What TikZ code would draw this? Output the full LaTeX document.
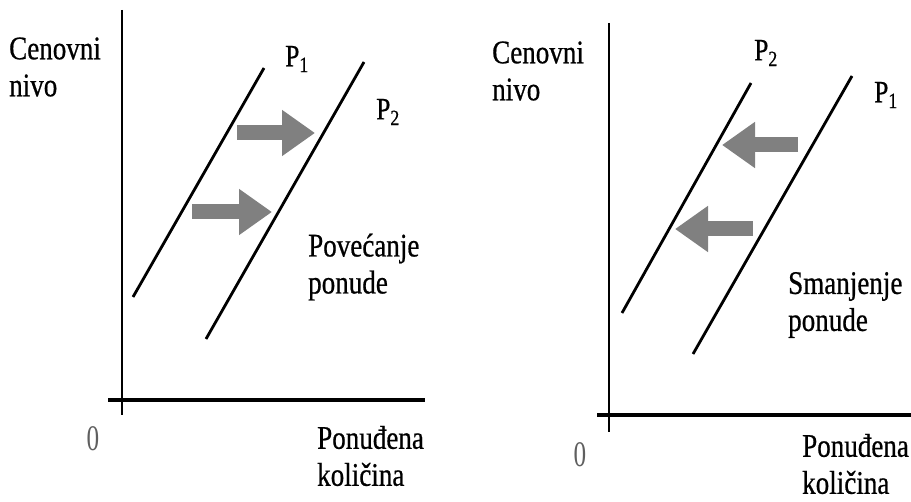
\documentclass[tikz,border=0pt]{standalone}
\usepackage{fontspec}
\setmainfont[FakeStretch=0.82,FakeBold=0.6]{Liberation Serif}
\newfontfamily\zerofont[FakeStretch=0.7]{Liberation Serif}
\usetikzlibrary{arrows.meta}
\definecolor{shiftgray}{RGB}{128,128,128}
\definecolor{zerogray}{RGB}{95,95,95}

\tikzset{
  axisv/.style={line width=2.5pt},
  axish/.style={line width=4.5pt},
  supplyline/.style={line width=2.8pt},
  shiftarrow/.style={draw=shiftgray, line width=15pt, -{Triangle[length=33pt,width=44pt]}},
  blocklabel/.style={anchor=west, align=left, inner sep=0pt, font=\fontsize{33}{37}\selectfont},
  curvelabel/.style={inner sep=0pt, font=\fontsize{31}{34}\selectfont},
  originlabel/.style={inner sep=0pt, text=zerogray, font=\zerofont\fontsize{36}{36}\selectfont}
}

\begin{document}
\begin{tikzpicture}[x=1pt, y=-1pt]
  \useasboundingbox (0,0) rectangle (911,502);
  % left panel: rast ponude
  \draw[axisv] (122,10) -- (122,415);
  \draw[axish] (108,400) -- (425,400);
  \draw[supplyline] (133,297) -- (264,68);
  \draw[supplyline] (206,339) -- (364,62);
  \coordinate (lup1) at (237,133);
  \coordinate (lup2) at (315,133);
  \coordinate (llo1) at (192,212);
  \coordinate (llo2) at (272,212);
  \draw[shiftarrow] (lup1) -- (lup2);
  \draw[shiftarrow] (llo1) -- (llo2);
  \node[blocklabel] (lprice) at (9,67) {Cenovni\\nivo};
  \node[blocklabel] (lqty) at (317,456) {Ponuđena\\količina};
  \node[blocklabel] (lshift) at (308,267) {Povećanje\\ponude};
  \node[curvelabel] (lp1) at (297,59) {P\textsubscript{1}};
  \node[curvelabel] (lp2) at (388,112) {P\textsubscript{2}};
  \node[originlabel] (lzero) at (93,439) {0};
  % right panel: pad ponude
  \draw[axisv] (609,23) -- (609,432);
  \draw[axish] (597,415) -- (911,415);
  \draw[supplyline] (622,313) -- (751,83);
  \draw[supplyline] (693,354) -- (852,76);
  \coordinate (rup1) at (798,145);
  \coordinate (rup2) at (722,145);
  \coordinate (rlo1) at (753,229);
  \coordinate (rlo2) at (675,229);
  \draw[shiftarrow] (rup1) -- (rup2);
  \draw[shiftarrow] (rlo1) -- (rlo2);
  \node[blocklabel] (rprice) at (492,71) {Cenovni\\nivo};
  \node[blocklabel] (rqty) at (802,464) {Ponuđena\\količina};
  \node[blocklabel] (rshift) at (788,305) {Smanjenje\\ponude};
  \node[curvelabel] (rp2) at (766,53) {P\textsubscript{2}};
  \node[curvelabel] (rp1) at (886,95) {P\textsubscript{1}};
  \node[originlabel] (rzero) at (580,455) {0};
\end{tikzpicture}
\end{document}
